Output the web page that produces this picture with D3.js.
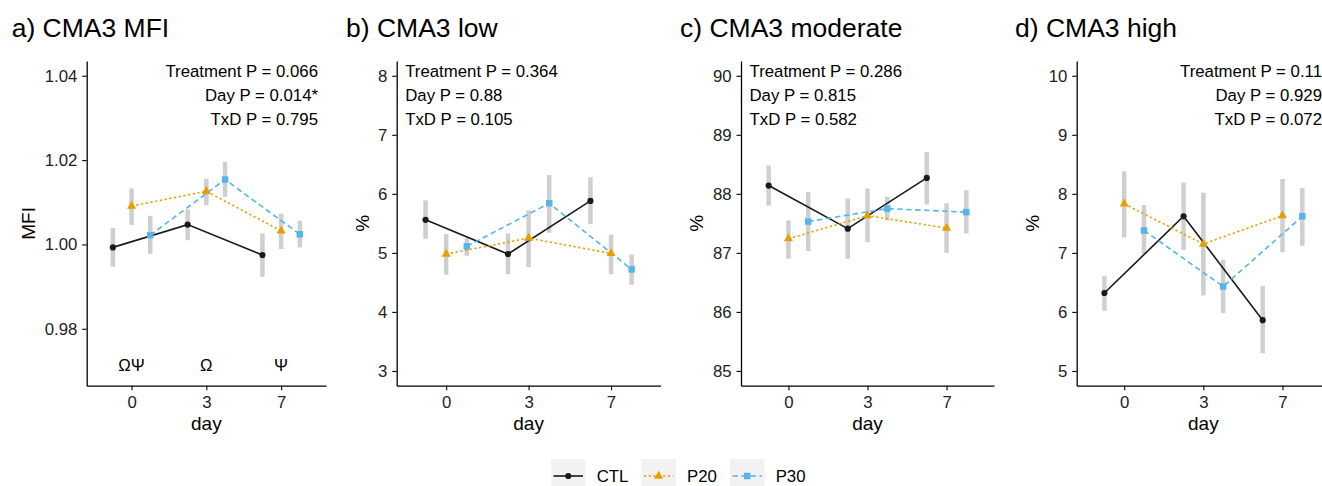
<!DOCTYPE html>
<html><head><meta charset="utf-8">
<script src="https://cdn.jsdelivr.net/npm/d3@7"></script>
<style>
body{margin:0;background:#fff;overflow:hidden}
text{font-family:"Liberation Sans",Arial,Helvetica,sans-serif}
</style>
</head><body>
<svg id="chart" width="1322" height="486"></svg>
<script>
// ---------------- DATA ----------------
const days = ["0", "3", "7"];
const groups = ["CTL", "P20", "P30"];
const panelTitles = ["a) CMA3 MFI", "b) CMA3 low", "c) CMA3 moderate", "d) CMA3 high"];
const yTitles = ["MFI", "%", "%", "%"];
const yLimits = [[0.97, 1.04], [3, 8], [85, 90], [5, 10]];
const yTicksA = [0.98, 1.00, 1.02, 1.04];
const yTickLabelsA = ["0.98", "1.00", "1.02", "1.04"];
const yTicksB = [3, 4, 5, 6, 7, 8];
const yTicksC = [85, 86, 87, 88, 89, 90];
const yTicksD = [5, 6, 7, 8, 9, 10];

const statsA = ["Treatment P = 0.066", "Day P = 0.014*", "TxD P = 0.795"];
const statsB = ["Treatment P = 0.364", "Day P = 0.88", "TxD P = 0.105"];
const statsC = ["Treatment P = 0.286", "Day P = 0.815", "TxD P = 0.582"];
const statsD = ["Treatment P = 0.11", "Day P = 0.929", "TxD P = 0.072"];

const sigLabelsA = ["ΩΨ", "Ω", "Ψ"];
const sigLevelA = 0.9715;

// rows: CTL, P20, P30 ; columns: day 0, 3, 7
const meanA = [[0.9993, 1.0047, 0.9975], [1.0091, 1.0126, 1.0032], [1.0022, 1.0154, 1.0024]];
const lowA  = [[0.9947, 1.0010, 0.9923], [1.0046, 1.0093, 0.9989], [0.9977, 1.0113, 0.9993]];
const highA = [[1.0039, 1.0083, 1.0026], [1.0133, 1.0156, 1.0073], [1.0068, 1.0196, 1.0056]];

const meanB = [[5.56, 4.98, 5.88], [4.98, 5.25, 4.99], [5.11, 5.84, 4.72]];
const lowB  = [[5.24, 4.64, 5.49], [4.63, 4.76, 4.64], [4.95, 5.34, 4.46]];
const highB = [[5.89, 5.33, 6.28], [5.32, 5.72, 5.31], [5.25, 6.32, 4.97]];

const meanC = [[88.14, 87.41, 88.27], [87.24, 87.63, 87.42], [87.53, 87.75, 87.69]];
const lowC  = [[87.80, 86.90, 87.82], [86.90, 87.18, 87.00], [87.03, 87.55, 87.33]];
const highC = [[88.48, 87.92, 88.71], [87.55, 88.09, 87.84], [88.03, 87.95, 88.06]];

const meanD = [[6.32, 7.62, 5.86], [7.83, 7.15, 7.63], [7.38, 6.43, 7.62]];
const lowD  = [[6.02, 7.05, 5.30], [7.26, 6.28, 7.01], [6.98, 5.98, 7.12]];
const highD = [[6.61, 8.19, 6.44], [8.38, 8.02, 8.25], [7.81, 6.88, 8.10]];

// ---------------- STYLE / LAYOUT ----------------
const colors = {CTL: "#1a1a1a", P20: "#E69F00", P30: "#56B4E9"};
const dashes = {CTL: null, P20: "2.2,2.6", P30: "5.5,3.5"};
const shapes = {CTL: d3.symbolCircle, P20: d3.symbolTriangle, P30: d3.symbolSquare};
const sizes = {CTL: 30, P20: 36, P30: 42};
const dodge = [-0.25, 0, 0.25];
const FS = 16.8;

const layout = [
  {axisX: 86.7, right: 326, titleX: 11.7, yTitleX: 35, statsAnchor: "end"},
  {axisX: 396.7, right: 660.5, titleX: 346, yTitleX: 369.3, statsAnchor: "start"},
  {axisX: 741, right: 994, titleX: 680, yTitleX: 703.3, statsAnchor: "start"},
  {axisX: 1076.7, right: 1330, titleX: 1015, yTitleX: 1039.3, statsAnchor: "end"}
];
const plotTop = 61, plotBottom = 385.7;

const panels = [
  {ticks: yTicksA, tickLabels: yTickLabelsA, stats: statsA, mean: meanA, low: lowA, high: highA},
  {ticks: yTicksB, tickLabels: yTicksB.map(String), stats: statsB, mean: meanB, low: lowB, high: highB},
  {ticks: yTicksC, tickLabels: yTicksC.map(String), stats: statsC, mean: meanC, low: lowC, high: highC},
  {ticks: yTicksD, tickLabels: yTicksD.map(String), stats: statsD, mean: meanD, low: lowD, high: highD}
];

const svg = d3.select("#chart");

panels.forEach((p, pi) => {
  const L = layout[pi];
  const lim = yLimits[pi];
  const ext = (lim[1] - lim[0]) * 0.05;
  const y = d3.scaleLinear().domain([lim[0] - ext, lim[1] + ext]).range([plotBottom, plotTop]);
  const x = d3.scaleLinear().domain([0.4, 3.6]).range([L.axisX, L.right]);
  const g = svg.append("g");

  // title
  g.append("text").attr("x", L.titleX).attr("y", 37.3)
    .attr("font-size", 26.5).attr("fill", "#000").text(panelTitles[pi]);

  // error bars
  groups.forEach((grp, gi) => {
    days.forEach((d, di) => {
      const xp = x(di + 1 + dodge[gi]);
      g.append("line").attr("x1", xp).attr("x2", xp)
        .attr("y1", y(p.low[gi][di])).attr("y2", y(p.high[gi][di]))
        .attr("stroke", "#cfcfcf").attr("stroke-width", 4.5);
    });
  });

  // lines
  groups.forEach((grp, gi) => {
    const line = d3.line().x((v, di) => x(di + 1 + dodge[gi])).y(v => y(v));
    g.append("path").attr("d", line(p.mean[gi]))
      .attr("fill", "none").attr("stroke", colors[grp]).attr("stroke-width", 1.6)
      .attr("stroke-dasharray", dashes[grp]);
  });

  // points
  groups.forEach((grp, gi) => {
    p.mean[gi].forEach((v, di) => {
      g.append("path")
        .attr("d", d3.symbol().type(shapes[grp]).size(sizes[grp])())
        .attr("transform", `translate(${x(di + 1 + dodge[gi])},${y(v)})`)
        .attr("fill", colors[grp]);
    });
  });

  // axes
  const yAxis = d3.axisLeft(y).tickValues(p.ticks).tickFormat((d, i) => p.tickLabels[i])
    .tickSize(4.5).tickSizeOuter(0).tickPadding(4.9);
  const ya = g.append("g").attr("transform", `translate(${L.axisX},0)`).call(yAxis);
  const xAxis = d3.axisBottom(x).tickValues([1, 2, 3]).tickFormat((d, i) => days[i])
    .tickSize(4.5).tickSizeOuter(0).tickPadding(5.9);
  const xa = g.append("g").attr("transform", `translate(0,${plotBottom})`).call(xAxis);
  [ya, xa].forEach(a => {
    a.select(".domain").attr("stroke", "#000").attr("stroke-width", 1.3);
    a.selectAll(".tick line").attr("stroke", "#000").attr("stroke-width", 1.1);
    a.selectAll(".tick text").attr("font-size", FS).attr("fill", "#222")
      .attr("font-family", "'Liberation Sans',Arial,sans-serif");
  });

  // axis titles
  g.append("text").attr("x", (L.axisX + L.right) / 2).attr("y", 430)
    .attr("text-anchor", "middle").attr("font-size", 19).attr("fill", "#000").text("day");
  g.append("text").attr("transform", `translate(${L.yTitleX},${(plotTop + plotBottom) / 2}) rotate(-90)`)
    .attr("text-anchor", "middle").attr("font-size", 19).attr("fill", "#000").text(yTitles[pi]);

  // stats annotation
  const sx = L.statsAnchor === "end" ? L.right - 8 : L.axisX + 8.5;
  p.stats.forEach((s, si) => {
    g.append("text").attr("x", sx).attr("y", 76.7 + si * 24.3)
      .attr("text-anchor", L.statsAnchor).attr("font-size", FS).attr("fill", "#000").text(s);
  });

  // significance labels (panel a)
  if (pi === 0) {
    sigLabelsA.forEach((s, di) => {
      g.append("text").attr("x", x(di + 1)).attr("y", y(sigLevelA))
        .attr("dy", "0.36em").attr("text-anchor", "middle")
        .attr("font-size", FS).attr("fill", "#000").text(s);
    });
  }
});

// ---------------- LEGEND ----------------
const leg = svg.append("g");
let lx = 551;
const legY = 476;
groups.forEach((grp) => {
  const kw = 34.5;
  leg.append("rect").attr("x", lx).attr("y", 459).attr("width", kw).attr("height", 34)
    .attr("fill", "#f2f2f2");
  leg.append("line").attr("x1", lx + 2.5).attr("x2", lx + kw - 2.5).attr("y1", legY).attr("y2", legY)
    .attr("stroke", colors[grp]).attr("stroke-width", 1.6).attr("stroke-dasharray", dashes[grp]);
  leg.append("path").attr("d", d3.symbol().type(shapes[grp]).size(sizes[grp])())
    .attr("transform", `translate(${lx + kw / 2},${legY})`).attr("fill", colors[grp]);
  const t = leg.append("text").attr("x", lx + kw + 11.2).attr("y", legY).attr("dy", "0.36em")
    .attr("font-size", FS).attr("fill", "#000").text(grp);
  const w = t.node().getComputedTextLength();
  lx = lx + kw + 11.2 + w + 13;
});
</script>
</body></html>
